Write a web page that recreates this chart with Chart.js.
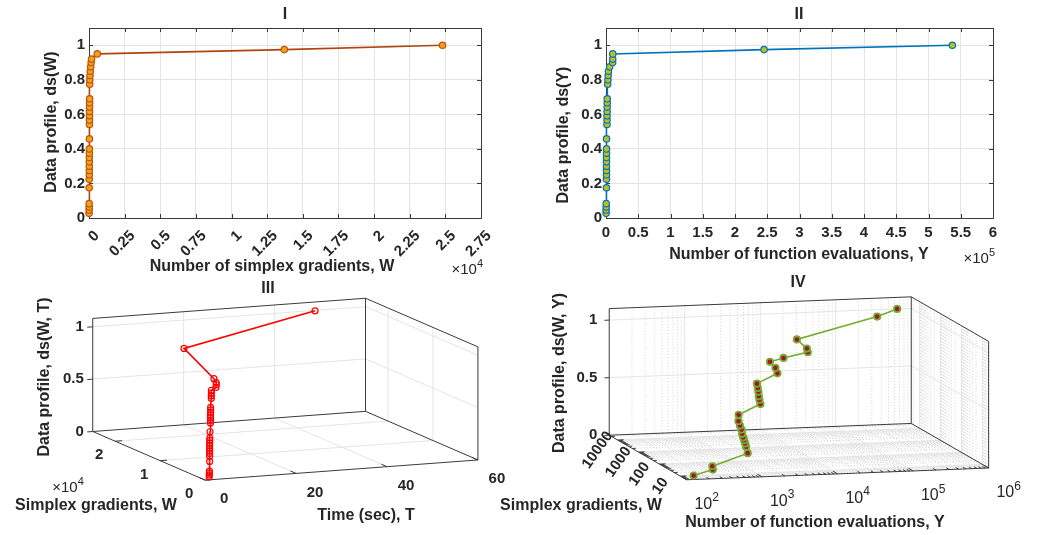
<!DOCTYPE html>
<html>
<head>
<meta charset="utf-8">
<title>Data profiles</title>
<script src="https://cdn.jsdelivr.net/npm/chart.js@4.4.1/dist/chart.umd.min.js"></script>
<style>
  html, body { margin:0; padding:0; background:#ffffff; }
  body { position:relative; width:1050px; height:535px; overflow:hidden; }
  canvas { position:absolute; }
</style>
</head>
<body>
<canvas id="pI" width="525" height="280" style="left:0px;top:0px"></canvas>
<canvas id="pII" width="525" height="280" style="left:525px;top:0px"></canvas>
<canvas id="pIII" width="525" height="265" style="left:0px;top:270px"></canvas>
<canvas id="pIV" width="570" height="265" style="left:480px;top:270px"></canvas>
<script>
// ---------------- data ----------------
const dsLevels  = [0.027,0.046,0.064,0.083,0.175,0.225,0.25,0.275,0.3,0.325,0.35,0.375,0.4,0.458,0.542,0.567,0.592,0.617,0.642,0.667,0.69,0.775,0.8,0.825,0.85,0.875,0.9,0.92,0.95,0.975,1.0];
const simplexW  = [5,8,10,12,15,18,19,20,21,22,23,24,26,30,32,34,36,38,40,42,45,46,55,70,90,120,150,180,580,13700,24800];
const funcEvalY = [120,180,260,300,700,730,745,750,760,770,780,795,820,850,1520,1600,1610,1730,1780,1860,1900,2600,3000,3400,3800,5700,10300,10400,10500,245000,537000];
const timeSec   = [0.9,0.9,0.95,0.95,1.0,1.0,1.0,1.0,1.0,1.0,1.0,1.05,1.05,1.1,1.2,1.2,1.2,1.2,1.25,1.25,1.25,1.4,1.4,1.45,1.45,2.5,2.6,2.6,2.5,8.9,48.7];

const gradW4 = [6,9.2,10,10.4,12,12.8,13.9,13.9,15.7,20,25,33,37,27.5,36.5,40.7,54.5,64.6,83.4,97.6,158,288,313,446,512,1000,12300,25000];
const evalY4 = [130,263,265,788,780,773,768,745,745,783,794,819,849,1521,1595,1614,1729,1780,1860,3630,3900,3900,6030,13960,14100,12500,290000,650000];
const ds4    = [0.025,0.05,0.075,0.175,0.225,0.25,0.275,0.3,0.325,0.35,0.375,0.4,0.45,0.55,0.575,0.6,0.625,0.65,0.675,0.75,0.775,0.8,0.825,0.85,0.875,0.925,0.975,1.0];

// ---------------- tick labels ----------------
const xTicksI   = [0,2500,5000,7500,10000,12500,15000,17500,20000,22500,25000,27500];
const xTicksII  = [0,50000,100000,150000,200000,250000,300000,350000,400000,450000,500000,550000,600000];
const yTicks2D  = [0,0.2,0.4,0.6,0.8,1];
const wTicksIII = [0,10000,20000];
const tTicksIII = [0,20,40,60];
const zTicks3D  = [0,0.5,1];
const wTicksIV  = [10,100,1000,10000];
const yTicksIV  = [100,1000,10000,100000,1000000];

// ---------------- style ----------------
const FONT = '"Liberation Sans", Arial, Helvetica, sans-serif';
const TXT = '#262626';
const AXC = '#3a3a3a';
const GRID = '#e4e4e4';
const MINOR = '#c8c8c8';
const TICK_PX = 15, LABEL_PX = 16;

function sup(ctx, base, s, x, y, align, size, weight) {
  const ss = Math.round(size * 0.72);
  ctx.font = `${weight} ${size}px ${FONT}`;
  const wb = ctx.measureText(base).width;
  ctx.font = `${weight} ${ss}px ${FONT}`;
  const ws = ctx.measureText(s).width;
  const tot = wb + ws;
  const x0 = align === 'center' ? x - tot / 2 : align === 'right' ? x - tot : x;
  ctx.textAlign = 'left'; ctx.textBaseline = 'middle';
  ctx.font = `${weight} ${size}px ${FONT}`;
  ctx.fillText(base, x0, y);
  ctx.font = `${weight} ${ss}px ${FONT}`;
  ctx.fillText(s, x0 + wb, y - size * 0.42);
}
function text(ctx, s, x, y, size, weight, rot) {
  ctx.save();
  ctx.translate(x, y);
  if (rot) ctx.rotate(rot);
  ctx.font = `${weight} ${size}px ${FONT}`;
  ctx.textAlign = 'center'; ctx.textBaseline = 'middle';
  ctx.fillStyle = TXT;
  ctx.fillText(s, 0, 0);
  ctx.restore();
}
const fmt = v => String(Math.round(v * 100) / 100);

// ---------------- 2-D panels ----------------
function make2D(cfg) {
  const cv = document.getElementById(cfg.id);
  const W = cv.width, H = cv.height;
  const [ox, oy] = cfg.offset;
  const frame = {
    id: 'frame2d_' + cfg.id,
    beforeDatasetsDraw(chart) {
      const { ctx, chartArea: a, scales: { x, y } } = chart;
      ctx.save();
      ctx.strokeStyle = AXC; ctx.lineWidth = 1;
      ctx.beginPath();
      const tl = 4;
      x.ticks.forEach(t => {
        const p = Math.round(x.getPixelForValue(t.value)) + 0.5;
        ctx.moveTo(p, a.bottom); ctx.lineTo(p, a.bottom - tl);
        ctx.moveTo(p, a.top); ctx.lineTo(p, a.top + tl);
      });
      y.ticks.forEach(t => {
        const p = Math.round(y.getPixelForValue(t.value)) + 0.5;
        ctx.moveTo(a.left, p); ctx.lineTo(a.left + tl, p);
        ctx.moveTo(a.right, p); ctx.lineTo(a.right - tl, p);
      });
      ctx.stroke();
      ctx.strokeRect(Math.round(a.left) + 0.5, Math.round(a.top) + 0.5, Math.round(a.width), Math.round(a.height));
      ctx.restore();
    },
    afterDraw(chart) {
      const ctx = chart.ctx;
      ctx.save();
      ctx.fillStyle = TXT;
      text(ctx, cfg.title, cfg.titlePos[0] - ox, cfg.titlePos[1] - oy, LABEL_PX, 'bold');
      text(ctx, cfg.xLabel, cfg.xLabelPos[0] - ox, cfg.xLabelPos[1] - oy, LABEL_PX, 'bold');
      text(ctx, cfg.yLabel, cfg.yLabelPos[0] - ox, cfg.yLabelPos[1] - oy, LABEL_PX, 'bold', -Math.PI / 2);
      ctx.fillStyle = TXT;
      sup(ctx, '\u00d710', cfg.expo, cfg.expoPos[0] - ox, cfg.expoPos[1] - oy, 'right', 15, 'normal');
      ctx.restore();
    }
  };
  return new Chart(cv, {
    type: 'scatter',
    data: {
      datasets: [{
        data: cfg.xs.map((v, i) => ({ x: v, y: cfg.ys[i] })),
        showLine: true,
        borderColor: cfg.line, borderWidth: 1.6,
        pointRadius: 3.2, pointBorderWidth: 1.2,
        pointBackgroundColor: cfg.face, pointBorderColor: cfg.edge,
        clip: false
      }]
    },
    options: {
      responsive: false, animation: false, events: [],
      layout: { padding: { top: cfg.area.top, right: W - cfg.area.right, left: 0, bottom: 0 } },
      plugins: { legend: { display: false }, tooltip: { enabled: false }, title: { display: false } },
      scales: {
        x: {
          type: 'linear', min: cfg.xMin, max: cfg.xMax,
          afterBuildTicks: s => { s.ticks = cfg.xTicks.map(v => ({ value: v })); },
          afterFit: s => { s.height = H - cfg.area.bottom; },
          grid: { color: GRID, drawTicks: false },
          border: { display: false },
          ticks: {
            autoSkip: false, maxRotation: cfg.rot, minRotation: cfg.rot, padding: cfg.xPad,
            labelOffset: cfg.xLabOff,
            color: TXT, font: { family: FONT, size: TICK_PX, weight: 'bold' },
            callback: v => fmt(v / cfg.xDiv)
          }
        },
        y: {
          type: 'linear', min: 0, max: 1.1,
          afterBuildTicks: s => { s.ticks = yTicks2D.map(v => ({ value: v })); },
          afterFit: s => { s.width = cfg.area.left; },
          grid: { color: GRID, drawTicks: false },
          border: { display: false },
          ticks: {
            padding: 4, color: TXT, font: { family: FONT, size: TICK_PX, weight: 'bold' },
            callback: v => fmt(v)
          }
        }
      }
    },
    plugins: [frame]
  });
}

make2D({
  id: 'pI', offset: [0, 0], area: { left: 89, right: 481, top: 28, bottom: 218 },
  xs: simplexW, ys: dsLevels, xMin: 0, xMax: 27500, xTicks: xTicksI, xDiv: 10000, rot: 45, xPad: 9, xLabOff: 8,
  line: '#B0440F', face: '#EDA31A', edge: '#C0500E',
  title: 'I', titlePos: [285, 15],
  xLabel: 'Number of simplex gradients, W', xLabelPos: [272, 267],
  yLabel: 'Data profile, ds(W)', yLabelPos: [52, 122],
  expo: '4', expoPos: [483, 270]
});
make2D({
  id: 'pII', offset: [525, 0], area: { left: 81, right: 468, top: 28, bottom: 218 },
  xs: funcEvalY, ys: dsLevels, xMin: 0, xMax: 600000, xTicks: xTicksII, xDiv: 100000, rot: 0, xPad: 6, xLabOff: 0,
  line: '#0072BD', face: '#BEBE1E', edge: '#0072BD',
  title: 'II', titlePos: [799, 15],
  xLabel: 'Number of function evaluations, Y', xLabelPos: [799, 255],
  yLabel: 'Data profile, ds(Y)', yLabelPos: [564, 135],
  expo: '5', expoPos: [995, 259]
});

// ---------------- 3-D panels (projected through an orthographic view) ----------------
function make3D(cfg) {
  const cv = document.getElementById(cfg.id);
  const Wd = cv.width, Hd = cv.height;
  const [L, T] = cfg.offset;
  const ax = cfg.axes;
  const nrm = (k, v) => {
    const A = ax[k];
    const f = A.log ? Math.log10 : (q => q);
    return (f(v) - f(A.min)) / (f(A.max) - f(A.min));
  };
  const projN = (fa, fb, fc) => ({
    x: cfg.origin[0] + fa * ax[0].vec[0] + fb * ax[1].vec[0] + fc * ax[2].vec[0],
    y: cfg.origin[1] + fa * ax[0].vec[1] + fb * ax[1].vec[1] + fc * ax[2].vec[1]
  });
  const proj = (a, b, c) => projN(nrm(0, a), nrm(1, b), nrm(2, c));
  const pts = cfg.A.map((a, i) => proj(a, cfg.B[i], cfg.C[i]));

  const minorOf = (k) => {
    const out = [];
    if (!ax[k].log) return out;
    const lo = Math.floor(Math.log10(ax[k].min)) - 1, hi = Math.ceil(Math.log10(ax[k].max));
    for (let d = lo; d <= hi; d++) for (let m = 2; m <= 9; m++) {
      const v = m * Math.pow(10, d);
      if (v > ax[k].min && v < ax[k].max) out.push(v);
    }
    return out;
  };

  const deco = {
    id: 'deco3d_' + cfg.id,
    beforeDatasetsDraw(chart) {
      const { ctx, scales: { x, y } } = chart;
      const P = p => [x.getPixelForValue(p.x), y.getPixelForValue(p.y)];
      const seg = (a1, b1, c1, a2, b2, c2) => {
        const p = P(projN(a1, b1, c1)), q = P(projN(a2, b2, c2));
        ctx.moveTo(p[0], p[1]); ctx.lineTo(q[0], q[1]);
      };
      const inR = f => f > 1e-6 && f < 1 - 1e-6;
      const aMaj = cfg.ticks[0].map(v => nrm(0, v)), bMaj = cfg.ticks[1].map(v => nrm(1, v)), cMaj = cfg.ticks[2].map(v => nrm(2, v));
      const aMin = minorOf(0).map(v => nrm(0, v)), bMin = minorOf(1).map(v => nrm(1, v));
      const drawGrid = (aList, bList, cList) => {
        aList.filter(inR).forEach(fa => { seg(fa, 1, 0, fa, 1, 1); seg(fa, 0, 0, fa, 1, 0); });
        bList.filter(inR).forEach(fb => { seg(1, fb, 0, 1, fb, 1); seg(0, fb, 0, 1, fb, 0); });
        cList.filter(inR).forEach(fc => { seg(1, 0, fc, 1, 1, fc); seg(0, 1, fc, 1, 1, fc); });
      };
      ctx.save();
      if (aMin.length || bMin.length) {
        ctx.beginPath(); ctx.strokeStyle = MINOR; ctx.lineWidth = 0.8; ctx.setLineDash([1, 2]);
        drawGrid(aMin, bMin, []);
        ctx.stroke(); ctx.setLineDash([]);
      }
      ctx.beginPath(); ctx.strokeStyle = GRID; ctx.lineWidth = 1;
      drawGrid(aMaj, bMaj, cMaj);
      ctx.stroke();
      ctx.beginPath(); ctx.strokeStyle = AXC; ctx.lineWidth = 1;
      seg(1, 0, 0, 1, 1, 0); seg(0, 1, 0, 1, 1, 0);
      seg(1, 0, 0, 1, 0, 1); seg(1, 1, 0, 1, 1, 1); seg(0, 1, 0, 0, 1, 1);
      seg(1, 0, 1, 1, 1, 1); seg(0, 1, 1, 1, 1, 1);
      seg(0, 0, 0, 1, 0, 0); seg(0, 0, 0, 0, 1, 0);
      const tA = cfg.tickLen[0], tB = cfg.tickLen[1];
      aMaj.filter(f => f >= -1e-6 && f <= 1 + 1e-6).forEach(fa => seg(fa, 0, 0, fa, tA, 0));
      aMin.forEach(fa => seg(fa, 0, 0, fa, tA * 0.6, 0));
      bMaj.filter(f => f >= -1e-6 && f <= 1 + 1e-6).forEach(fb => seg(0, fb, 0, tB, fb, 0));
      bMin.forEach(fb => seg(0, fb, 0, tB * 0.6, fb, 0));
      cMaj.forEach(fc => seg(1, 0, fc, 1, -tA * 0.8, fc));
      ctx.stroke();

      ctx.fillStyle = TXT;
      cfg.ticks[2].forEach(v => {
        const p = P(proj(ax[0].max, ax[1].min, v));
        ctx.font = `bold ${TICK_PX}px ${FONT}`; ctx.textAlign = 'right'; ctx.textBaseline = 'middle';
        ctx.fillText(fmt(v), p[0] - cfg.zLabGap, p[1]);
      });
      cfg.ticks[0].forEach(v => {
        const p = P(proj(v, ax[1].min, ax[2].min));
        const lx = p[0] + cfg.aLabOff[0], ly = p[1] + cfg.aLabOff[1];
        ctx.save(); ctx.translate(lx, ly); if (cfg.aLabRot) ctx.rotate(cfg.aLabRot);
        ctx.font = `bold ${TICK_PX}px ${FONT}`; ctx.textAlign = 'center'; ctx.textBaseline = 'middle';
        ctx.fillText(cfg.aFmt(v), 0, 0); ctx.restore();
      });
      cfg.ticks[1].forEach(v => {
        const p = P(proj(ax[0].min, v, ax[2].min));
        const lx = p[0] + cfg.bLabOff[0], ly = p[1] + cfg.bLabOff[1];
        if (ax[1].log) {
          sup(ctx, '10', String(Math.round(Math.log10(v))), lx, ly, 'center', 16, 'normal');
        } else {
          ctx.font = `bold ${TICK_PX}px ${FONT}`; ctx.textAlign = 'center'; ctx.textBaseline = 'middle';
          ctx.fillText(fmt(v), lx, ly);
        }
      });
      ctx.restore();
    },
    afterDraw(chart) {
      const ctx = chart.ctx;
      ctx.save();
      ctx.fillStyle = TXT;
      text(ctx, cfg.title, cfg.titlePos[0] - L, cfg.titlePos[1] - T, LABEL_PX, 'bold');
      text(ctx, cfg.aLabel, cfg.aLabelPos[0] - L, cfg.aLabelPos[1] - T, LABEL_PX, 'bold');
      text(ctx, cfg.bLabel, cfg.bLabelPos[0] - L, cfg.bLabelPos[1] - T, LABEL_PX, 'bold');
      text(ctx, cfg.cLabel, cfg.cLabelPos[0] - L, cfg.cLabelPos[1] - T, LABEL_PX, 'bold', -Math.PI / 2);
      if (cfg.expo) { ctx.fillStyle = TXT; sup(ctx, '\u00d710', cfg.expo, cfg.expoPos[0] - L, cfg.expoPos[1] - T, 'center', 15, 'normal'); }
      ctx.restore();
    }
  };

  return new Chart(cv, {
    type: 'scatter',
    data: {
      datasets: [{
        data: pts, showLine: true,
        borderColor: cfg.line, borderWidth: 1.6,
        pointRadius: cfg.pr, pointBorderWidth: cfg.pbw,
        pointBackgroundColor: cfg.face, pointBorderColor: cfg.edge,
        clip: false
      }]
    },
    options: {
      responsive: false, animation: false, events: [],
      layout: { padding: 0 },
      plugins: { legend: { display: false }, tooltip: { enabled: false } },
      scales: {
        x: { type: 'linear', min: L, max: L + Wd, display: false },
        y: { type: 'linear', min: T, max: T + Hd, reverse: true, display: false }
      }
    },
    plugins: [deco]
  });
}

make3D({
  id: 'pIII', offset: [0, 270],
  origin: [204, 483.3],
  axes: [
    { min: 0, max: 25000, log: false, vec: [-114.7, -50.6] },
    { min: 0, max: 60, log: false, vec: [278.3, -21] },
    { min: 0, max: 1.08, log: false, vec: [0, -117.7] }
  ],
  A: simplexW, B: timeSec, C: dsLevels,
  ticks: [wTicksIII, tTicksIII, zTicks3D],
  tickLen: [0.025, 0.05], zLabGap: 9,
  aFmt: v => fmt(v / 10000), aLabOff: [-16, 14], aLabRot: 0,
  bLabOff: [19, 19],
  line: '#FF0000', face: 'rgba(255,255,255,0)', edge: '#FF0000', pr: 3, pbw: 1.2,
  title: 'III', titlePos: [268, 289],
  aLabel: 'Simplex gradients, W', aLabelPos: [96, 506],
  bLabel: 'Time (sec), T', bLabelPos: [366, 516],
  cLabel: 'Data profile, ds(W, T)', cLabelPos: [45, 377],
  expo: '4', expoPos: [68, 488]
});

make3D({
  id: 'pIV', offset: [480, 270],
  origin: [685, 483.3],
  axes: [
    { min: Math.pow(10, 0.7), max: Math.pow(10, 4.4), log: true, vec: [-79, -46.6] },
    { min: 100, max: 1000000, log: true, vec: [308.3, -12.3] },
    { min: 0, max: 1.1, log: false, vec: [0, -132.4] }
  ],
  A: gradW4, B: evalY4, C: ds4,
  ticks: [wTicksIV, yTicksIV, zTicks3D],
  tickLen: [0.02, 0.06], zLabGap: 12,
  aFmt: v => String(v), aLabOff: [-20, 10], aLabRot: -55 * Math.PI / 180,
  bLabOff: [20, 25],
  line: '#77AC30', face: '#A2142F', edge: '#77AC30', pr: 3.2, pbw: 1.8,
  title: 'IV', titlePos: [798, 283],
  aLabel: 'Simplex gradients, W', aLabelPos: [581, 506],
  bLabel: 'Number of function evaluations, Y', bLabelPos: [815, 523],
  cLabel: 'Data profile, ds(W, Y)', cLabelPos: [560, 373],
  expo: null
});
</script>
</body>
</html>
